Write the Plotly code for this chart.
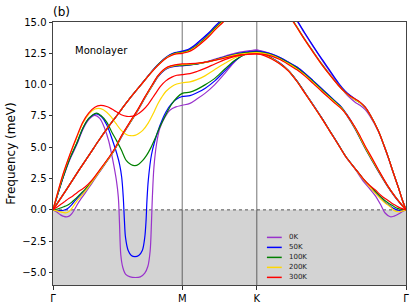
import plotly.graph_objects as go

TEMPS = ["0K", "50K", "100K", "200K", "300K"]
LINE_COLORS = ["#9932cc", "#0000ff", "#008000", "#ffd700", "#ff0000"]

HS_LABELS = ["Γ", "M", "K", "Γ"]
HS_POS = [0.0, 0.57735, 0.91068, 1.57735]
Y_TICKS = [-5.0, -2.5, 0.0, 2.5, 5.0, 7.5, 10.0, 12.5, 15.0]

# ---------------- Branch A (soft branch) along Γ–M, per temperature ----------------
kA_GM_0K = [0, 0.045, 0.075, 0.105, 0.133, 0.160, 0.187, 0.209, 0.231, 0.249, 0.267, 0.283, 0.292, 0.297,
            0.303, 0.312, 0.325, 0.345, 0.368, 0.390, 0.410, 0.424, 0.434, 0.440, 0.444, 0.451, 0.463,
            0.477, 0.500, 0.522, 0.549, 0.57735]
fA_GM_0K = [0, 2.55, 4.0, 5.15, 6.4, 7.2, 7.54, 7.3, 6.5, 5.5, 4.0, 2.4, 1.0, -1.0,
            -3.6, -4.6, -5.15, -5.35, -5.4, -5.35, -5.05, -4.5, -3.3, -1.0, 1.0, 3.4, 5.3,
            6.5, 7.4, 7.95, 8.22, 8.35]

kA_GM_50K = [0, 0.045, 0.075, 0.105, 0.133, 0.160, 0.194, 0.218, 0.240, 0.267, 0.285, 0.298, 0.307, 0.314,
             0.319, 0.324, 0.336, 0.350, 0.366, 0.383, 0.399, 0.410, 0.416, 0.420, 0.426, 0.440, 0.455,
             0.477, 0.504, 0.531, 0.553, 0.57735]
fA_GM_50K = [0, 2.6, 4.1, 5.25, 6.5, 7.3, 7.67, 7.4, 6.8, 5.5, 4.5, 3.6, 2.6, 1.0,
             -0.8, -2.2, -3.25, -3.65, -3.74, -3.65, -3.25, -2.2, -0.8, 0.8, 2.4, 4.4, 5.5,
             6.7, 7.8, 8.5, 8.85, 9.05]

kA_GM_100K = [0, 0.045, 0.075, 0.105, 0.133, 0.160, 0.194, 0.213, 0.240, 0.263, 0.284, 0.305, 0.328, 0.348,
              0.366, 0.383, 0.401, 0.418, 0.437, 0.455, 0.477, 0.504, 0.531, 0.553, 0.57735]
fA_GM_100K = [0, 2.6, 4.1, 5.27, 6.5, 7.3, 7.72, 7.55, 7.0, 6.2, 5.53, 4.8, 3.93, 3.62,
              3.53, 3.65, 3.95, 4.35, 4.95, 5.65, 6.6, 7.6, 8.45, 8.95, 9.3]

kA_GM_200K = [0, 0.045, 0.075, 0.105, 0.133, 0.160, 0.187, 0.213, 0.240, 0.263, 0.281, 0.305, 0.330, 0.348,
              0.366, 0.383, 0.401, 0.426, 0.451, 0.468, 0.486, 0.504, 0.531, 0.553, 0.57735]
fA_GM_200K = [0, 2.8, 4.35, 5.7, 6.9, 7.65, 8.05, 8.08, 7.8, 7.35, 6.9, 6.35, 6.0, 5.92,
              5.95, 6.1, 6.35, 6.95, 7.8, 8.45, 9.0, 9.45, 9.85, 10.05, 10.15]

kA_GM_300K = [0, 0.045, 0.075, 0.105, 0.133, 0.160, 0.187, 0.213, 0.240, 0.263, 0.281, 0.305, 0.330, 0.348,
              0.366, 0.383, 0.401, 0.426, 0.451, 0.482, 0.504, 0.531, 0.553, 0.57735]
fA_GM_300K = [0, 2.86, 4.4, 5.8, 7.0, 7.75, 8.2, 8.34, 8.25, 8.05, 7.85, 7.6, 7.47, 7.46,
              7.52, 7.7, 7.95, 8.45, 9.1, 9.9, 10.3, 10.6, 10.75, 10.8]

# Branch A along M–K (shared k grid)
k_A_MK = [0.57735, 0.612, 0.643, 0.679, 0.723, 0.768, 0.813, 0.858, 0.91068]
fA_MK_0K = [8.35, 8.5, 8.85, 9.3, 10.0, 10.9, 11.85, 12.5, 12.75]
fA_MK_50K = [9.05, 9.12, 9.35, 9.7, 10.3, 11.1, 11.9, 12.42, 12.65]
fA_MK_100K = [9.3, 9.4, 9.62, 9.98, 10.5, 11.25, 11.95, 12.4, 12.6]
fA_MK_200K = [10.15, 10.22, 10.4, 10.7, 11.2, 11.7, 12.15, 12.42, 12.55]
fA_MK_300K = [10.8, 10.88, 11.05, 11.3, 11.65, 12.0, 12.25, 12.4, 12.45]

# Lower band along K–Γ (continuation of branch A)
k_LOW = [0.91068, 0.947, 0.977, 1.014, 1.051, 1.090, 1.126, 1.162, 1.201, 1.238, 1.275, 1.310, 1.350,
         1.386, 1.412, 1.439, 1.466, 1.484, 1.507, 1.524, 1.542, 1.560, 1.57735]
fLOW_0K = [12.75, 12.5, 12.15, 11.72, 11.15, 10.3, 9.35, 8.38, 7.32, 6.25, 5.2, 4.18, 3.25,
           2.3, 1.75, 1.15, 0.35, -0.25, -0.55, -0.5, -0.35, -0.15, 0]
fLOW_50K = [12.65, 12.44, 12.12, 11.7, 11.14, 10.3, 9.35, 8.4, 7.34, 6.28, 5.23, 4.22, 3.3,
            2.46, 1.93, 1.4, 0.9, 0.6, 0.3, 0.1, -0.03, -0.03, 0]
fLOW_100K = [12.6, 12.4, 12.1, 11.68, 11.13, 10.28, 9.33, 8.37, 7.32, 6.27, 5.22, 4.22, 3.3,
             2.48, 1.98, 1.5, 1.02, 0.72, 0.45, 0.26, 0.1, 0.03, 0]
fLOW_200K = [12.55, 12.36, 12.08, 11.67, 11.12, 10.27, 9.32, 8.37, 7.3, 6.25, 5.2, 4.2, 3.28,
             2.45, 1.9, 1.35, 0.85, 0.55, 0.25, -0.05, -0.15, -0.1, 0]
fLOW_300K = [12.45, 12.3, 12.05, 11.65, 11.1, 10.25, 9.3, 8.35, 7.3, 6.25, 5.2, 4.2, 3.3,
             2.5, 2.0, 1.6, 1.15, 0.9, 0.62, 0.42, 0.24, 0.1, 0]

# ---------------- Branch B (flexural-like) Γ–M ----------------
k_B_GM = [0, 0.017, 0.034, 0.048, 0.060, 0.072, 0.084, 0.095, 0.106, 0.124, 0.142, 0.173, 0.209, 0.254,
          0.276, 0.307, 0.343, 0.375, 0.410, 0.442, 0.468, 0.491, 0.513, 0.545, 0.57735]
fB_GM_0K = [0, -0.18, -0.4, -0.52, -0.56, -0.5, -0.3, 0.0, 0.35, 0.85, 1.3, 2.1, 3.05, 4.2,
            4.8, 5.85, 6.9, 7.8, 8.9, 9.85, 10.6, 11.05, 11.32, 11.46, 11.5]
fB_GM_50K = [0, -0.03, -0.06, -0.03, 0.05, 0.2, 0.42, 0.65, 0.88, 1.22, 1.52, 2.2, 3.1, 4.25,
             4.85, 5.9, 6.95, 7.85, 8.95, 9.9, 10.62, 11.07, 11.34, 11.48, 11.52]
fB_GM_100K = [0, 0.05, 0.15, 0.25, 0.33, 0.45, 0.62, 0.8, 0.98, 1.3, 1.62, 2.25, 3.15, 4.25,
              4.85, 5.9, 6.95, 7.85, 8.95, 9.9, 10.65, 11.1, 11.37, 11.51, 11.55]
fB_GM_200K = [0, -0.08, -0.16, -0.22, -0.23, -0.12, 0.12, 0.4, 0.68, 1.05, 1.45, 2.2, 3.1, 4.25,
              4.85, 5.9, 6.95, 7.85, 8.95, 9.9, 10.65, 11.1, 11.38, 11.54, 11.6]
fB_GM_300K = [0, 0.2, 0.43, 0.6, 0.77, 0.93, 1.05, 1.2, 1.35, 1.58, 1.8, 2.35, 3.2, 4.3,
              4.9, 5.95, 7.0, 7.9, 9.0, 9.95, 10.7, 11.15, 11.42, 11.58, 11.65]

# Branch B along M–K
k_B_MK = [0.57735, 0.612, 0.656, 0.701, 0.746, 0.791, 0.835, 0.880, 0.91068]
fB_MK_0K = [11.5, 11.57, 11.7, 11.9, 12.15, 12.4, 12.6, 12.72, 12.75]
fB_MK_50K = [11.52, 11.58, 11.69, 11.87, 12.1, 12.33, 12.52, 12.62, 12.65]
fB_MK_100K = [11.55, 11.6, 11.7, 11.86, 12.08, 12.3, 12.47, 12.57, 12.6]
fB_MK_200K = [11.6, 11.63, 11.71, 11.86, 12.05, 12.27, 12.43, 12.52, 12.55]
fB_MK_300K = [11.65, 11.67, 11.73, 11.86, 12.03, 12.22, 12.37, 12.44, 12.45]

# Middle band along K–Γ (continuation of branch B)
k_MID = [0.91068, 0.947, 0.977, 1.014, 1.051, 1.090, 1.126, 1.162, 1.201, 1.229, 1.260, 1.287, 1.314,
         1.350, 1.372, 1.395, 1.425, 1.454, 1.493, 1.529, 1.551, 1.57735]
fMID_0K = [12.75, 12.62, 12.45, 12.17, 11.8, 11.4, 10.9, 10.3, 9.65, 9.18, 8.65, 8.2, 7.5,
           6.45, 5.7, 4.9, 3.95, 3.05, 1.92, 1.0, 0.52, 0]
fMID_50K = [12.65, 12.57, 12.43, 12.16, 11.8, 11.4, 10.9, 10.32, 9.68, 9.22, 8.7, 8.25, 7.6,
            6.55, 5.8, 5.0, 4.05, 3.15, 1.98, 1.05, 0.55, 0]
fMID_100K = [12.6, 12.52, 12.38, 12.1, 11.74, 11.32, 10.82, 10.24, 9.6, 9.14, 8.63, 8.2, 7.55,
             6.5, 5.75, 4.95, 4.0, 3.1, 1.95, 1.03, 0.54, 0]
fMID_200K = [12.55, 12.47, 12.33, 12.05, 11.68, 11.25, 10.75, 10.17, 9.52, 9.07, 8.57, 8.15, 7.55,
             6.55, 5.8, 5.0, 4.05, 3.15, 1.98, 1.05, 0.55, 0]
fMID_300K = [12.45, 12.4, 12.28, 12.0, 11.62, 11.18, 10.68, 10.1, 9.45, 9.0, 8.5, 8.1, 7.55,
             6.6, 5.9, 5.1, 4.15, 3.2, 2.0, 1.05, 0.55, 0]

# ---------------- Branch C (steep branch) Γ–M–K, leaves the window ----------------
k_C = [0, 0.060, 0.119, 0.164, 0.203, 0.240, 0.276, 0.307, 0.343, 0.375, 0.401, 0.424, 0.446, 0.466,
       0.485, 0.504, 0.522, 0.545, 0.57735, 0.603, 0.630, 0.656, 0.694, 0.723, 0.761, 0.800]
fC_0K = [0, 1.62, 3.25, 4.45, 5.5, 6.45, 7.3, 8.05, 8.9, 9.6, 10.16, 10.67, 11.13, 11.53,
         11.86, 12.15, 12.36, 12.53, 12.64, 12.77, 13.07, 13.46, 14.06, 14.61, 15.26, 15.96]
fC_50K = [0, 1.62, 3.25, 4.45, 5.5, 6.45, 7.3, 8.05, 8.9, 9.6, 10.17, 10.68, 11.15, 11.55,
          11.88, 12.17, 12.38, 12.55, 12.67, 12.8, 13.1, 13.5, 14.1, 14.65, 15.3, 16.0]
fC_100K = [0, 1.62, 3.25, 4.45, 5.5, 6.45, 7.3, 8.05, 8.9, 9.6, 10.16, 10.66, 11.13, 11.52,
           11.85, 12.13, 12.33, 12.5, 12.58, 12.7, 12.97, 13.33, 13.93, 14.5, 15.15, 15.85]
fC_200K = [0, 1.62, 3.25, 4.45, 5.5, 6.45, 7.3, 8.05, 8.9, 9.6, 10.15, 10.65, 11.11, 11.5,
           11.82, 12.1, 12.3, 12.46, 12.54, 12.64, 12.9, 13.25, 13.85, 14.4, 15.05, 15.75]
fC_300K = [0, 1.62, 3.25, 4.45, 5.5, 6.45, 7.3, 8.05, 8.9, 9.6, 10.15, 10.65, 11.1, 11.48,
           11.8, 12.08, 12.27, 12.43, 12.5, 12.6, 12.85, 13.2, 13.8, 14.35, 15.0, 15.7]

# ---------------- Top branch along K–Γ, enters from above ----------------
k_TOP = [1.023, 1.074, 1.126, 1.162, 1.201, 1.238, 1.275, 1.305, 1.327, 1.350, 1.372, 1.395, 1.417,
         1.454, 1.480, 1.499, 1.520, 1.544, 1.560, 1.57735]
fTOP_0K = [16.85, 15.55, 14.05, 13.05, 12.0, 11.02, 10.05, 9.35, 8.95, 8.6, 8.35, 8.0, 7.45,
           6.25, 5.05, 4.1, 2.98, 1.74, 0.85, 0]
fTOP_50K = [16.9, 15.6, 14.1, 13.1, 12.05, 11.1, 10.15, 9.5, 9.15, 8.85, 8.58, 8.2, 7.6,
            6.3, 5.1, 4.15, 3.0, 1.75, 0.85, 0]
fTOP_100K = [16.35, 15.05, 13.6, 12.65, 11.65, 10.78, 9.97, 9.4, 9.07, 8.8, 8.55, 8.17, 7.58,
             6.3, 5.1, 4.15, 3.0, 1.75, 0.85, 0]
fTOP_200K = [16.3, 15.0, 13.55, 12.6, 11.6, 10.75, 9.95, 9.38, 9.05, 8.8, 8.55, 8.17, 7.58,
             6.3, 5.1, 4.15, 3.0, 1.75, 0.85, 0]
fTOP_300K = [16.3, 15.0, 13.55, 12.6, 11.6, 10.75, 9.95, 9.4, 9.1, 8.85, 8.6, 8.2, 7.6,
             6.3, 5.1, 4.15, 3.0, 1.75, 0.85, 0]

# ---------------- assemble ----------------
A_GM = {"0K": (kA_GM_0K, fA_GM_0K), "50K": (kA_GM_50K, fA_GM_50K), "100K": (kA_GM_100K, fA_GM_100K),
        "200K": (kA_GM_200K, fA_GM_200K), "300K": (kA_GM_300K, fA_GM_300K)}
A_MK = {"0K": fA_MK_0K, "50K": fA_MK_50K, "100K": fA_MK_100K, "200K": fA_MK_200K, "300K": fA_MK_300K}
LOW = {"0K": fLOW_0K, "50K": fLOW_50K, "100K": fLOW_100K, "200K": fLOW_200K, "300K": fLOW_300K}
B_GM = {"0K": fB_GM_0K, "50K": fB_GM_50K, "100K": fB_GM_100K, "200K": fB_GM_200K, "300K": fB_GM_300K}
B_MK = {"0K": fB_MK_0K, "50K": fB_MK_50K, "100K": fB_MK_100K, "200K": fB_MK_200K, "300K": fB_MK_300K}
MID = {"0K": fMID_0K, "50K": fMID_50K, "100K": fMID_100K, "200K": fMID_200K, "300K": fMID_300K}
C_ = {"0K": fC_0K, "50K": fC_50K, "100K": fC_100K, "200K": fC_200K, "300K": fC_300K}
TOP = {"0K": fTOP_0K, "50K": fTOP_50K, "100K": fTOP_100K, "200K": fTOP_200K, "300K": fTOP_300K}

fig = go.Figure()
for temp, color in zip(TEMPS, LINE_COLORS):
    kA, fA = A_GM[temp]
    branches = [
        (kA + k_A_MK[1:] + k_LOW[1:], fA + A_MK[temp][1:] + LOW[temp][1:]),
        (k_B_GM + k_B_MK[1:] + k_MID[1:], B_GM[temp] + B_MK[temp][1:] + MID[temp][1:]),
        (k_C, C_[temp]),
        (k_TOP, TOP[temp]),
    ]
    for kx, fy in branches:
        fig.add_trace(go.Scatter(
            x=kx, y=fy, mode="lines", name=temp, showlegend=False, hoverinfo="skip",
            line=dict(color=color, width=1.2, shape="spline", smoothing=0.9),
        ))

shapes = [
    dict(type="rect", xref="x", yref="y", x0=0, x1=HS_POS[-1], y0=-6, y1=0,
         fillcolor="#d3d3d3", line=dict(width=0), layer="below"),
    dict(type="line", xref="x", yref="y", x0=0, x1=HS_POS[-1], y0=0, y1=0,
         line=dict(color="#555555", width=1, dash="dot"), layer="below"),
]
for xv in HS_POS[1:3]:
    shapes.append(dict(type="line", xref="x", yref="y", x0=xv, x1=xv, y0=-6, y1=15,
                       line=dict(color="rgba(0,0,0,0.55)", width=1), layer="below"))

annotations = [
    dict(text="(b)", xref="paper", yref="paper", x=-0.005, y=1.038, xanchor="left", yanchor="middle",
         showarrow=False, font=dict(size=12, color="black")),
    dict(text="Monolayer", xref="x", yref="y", x=0.216, y=12.76, xanchor="center", yanchor="middle",
         showarrow=False, font=dict(size=10, color="black")),
]

# manual legend (compact, inside lower area)
leg_y = [0.181, 0.143, 0.105, 0.067, 0.029]
for temp, color, yy in zip(TEMPS, LINE_COLORS, leg_y):
    shapes.append(dict(type="line", xref="paper", yref="paper", x0=0.606, x1=0.648, y0=yy, y1=yy,
                       line=dict(color=color, width=1.5)))
    annotations.append(dict(text=temp, xref="paper", yref="paper", x=0.664, y=yy, xanchor="left",
                            yanchor="middle", showarrow=False, font=dict(size=7, color="#222222")))

fig.update_layout(
    width=416, height=305,
    margin=dict(l=53, r=10, t=22, b=20, autoexpand=False),
    plot_bgcolor="white", paper_bgcolor="white",
    font=dict(family="DejaVu Sans", size=10, color="black"),
    showlegend=False, shapes=shapes, annotations=annotations,
)
fig.update_xaxes(range=[0, HS_POS[-1]], tickvals=HS_POS, ticktext=HS_LABELS, ticks="outside",
                 ticklen=3.5, tickwidth=0.8, tickcolor="black", showline=True, linecolor="#444444",
                 linewidth=1, mirror=True, showgrid=False, zeroline=False, tickfont=dict(size=10),
                 automargin=False)
fig.update_yaxes(range=[-6, 15], tickvals=Y_TICKS, tickformat=".1f", ticks="outside", ticklen=3.5,
                 tickwidth=0.8, tickcolor="black", showline=True, linecolor="#444444", linewidth=1,
                 mirror=True, showgrid=False, zeroline=False, tickfont=dict(size=10), automargin=False,
                 title=dict(text="Frequency (meV)", font=dict(size=12), standoff=4))

fig.write_html("out.html", config={"displayModeBar": False, "staticPlot": True},
               post_script="document.body.style.margin='0px';document.body.style.overflow='hidden';")
